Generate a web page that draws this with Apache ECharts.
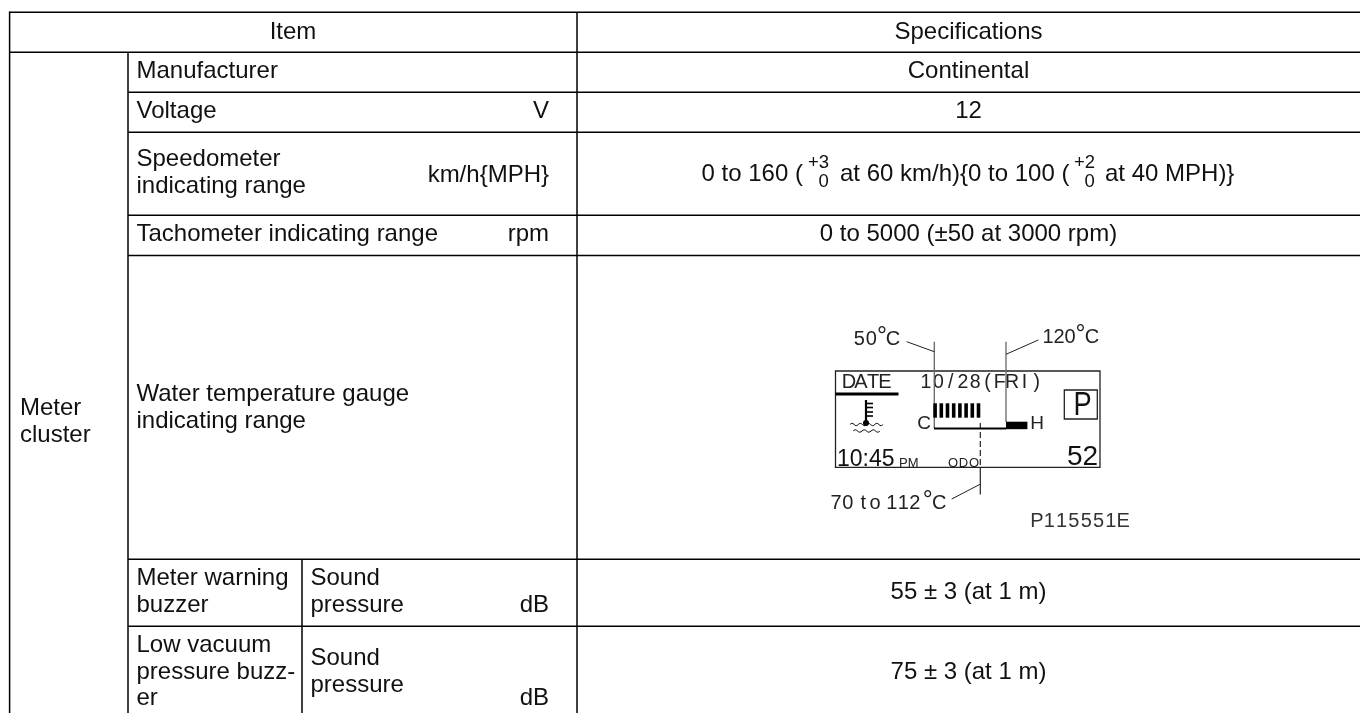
<!DOCTYPE html>
<html><head><meta charset="utf-8">
<style>html,body{margin:0;padding:0;background:#fff}#c{width:1360px;height:713px}</style>
<script src="https://cdn.jsdelivr.net/npm/echarts@6/dist/echarts.min.js"></script>
</head><body><div id="c"></div>
<script>
const headers = ["Item", "Specifications"];
const groupLabel = ["Meter", "cluster"];
const itemNames = ["Manufacturer", "Voltage", "Speedometer", "indicating range", "Tachometer indicating range", "Water temperature gauge", "indicating range", "Meter warning", "buzzer", "Low vacuum", "pressure buzz-", "er"];
const subItems = ["Sound", "pressure"];
const units = ["V", "km/h{MPH}", "rpm", "dB"];
const specs = ["Continental", "12", "0 to 5000 (\u00b150 at 3000 rpm)", "55 \u00b1 3 (at 1 m)", "75 \u00b1 3 (at 1 m)"];
const speedSpec = ["0 to 160 (", "+3", "0", "at 60 km/h){0 to 100 (", "+2", "0", "at 40 MPH)}"];
const gaugeLabels = ["50\u00b0C", "120\u00b0C", "70 to 112\u00b0C", "10/28(FRI)", "DATE", "ODO", "P115551E"];
const displayText = ["C", "H", "10:45", "PM", "P", "52"];
const gaugeSegments = 8;

const F = '"Liberation Sans", Arial, sans-serif';
const INK = '#111';
const els = [];
function T(s, x, y, size, align, fill) {
  els.push({type:'text', silent:true, style:{text:s, x, y, fill:fill||INK, font:size+'px '+F, textAlign:align||'left', textVerticalAlign:'middle'}});
}
function spaced(s, cx0, y, pitch, size, fill) {
  [...s].forEach((ch,i)=>{ if(ch!==' ') T(ch,cx0+i*pitch,y,size,'center',fill||'#222'); });
}
function L(x1,y1,x2,y2,w,stroke,dash) {
  els.push({type:'line',silent:true,shape:{x1,y1,x2,y2},style:{stroke:stroke||'#000',lineWidth:w||1.5,lineDash:dash||null}});
}
function R(x,y,w,h,fill,stroke,lw) {
  els.push({type:'rect',silent:true,shape:{x,y,width:w,height:h},style:{fill:fill||'#000',stroke:stroke||null,lineWidth:lw||0}});
}

// table rules
const W=1360,H=713, X0=9.6, X1=128, X2=302, X3=577;
const Y=[12.3,52.3,92.3,132.3,215.3,255.5,559.3,626.3];
L(X0,Y[0],W,Y[0]); L(X0,Y[1],W,Y[1]);
for(let i=2;i<Y.length;i++) L(X1,Y[i],W,Y[i]);
L(X0,Y[0]-.75,X0,H); L(X1,Y[1],X1,H); L(X3,Y[0],X3,H); L(X2,Y[6],X2,H);

const FS=24, xA=136.5, xB=310.5, xU=549, xC=968.5;
T(headers[0],293,32,FS,'center'); T(headers[1],xC,32,FS,'center');
T(groupLabel[0],20,408,FS); T(groupLabel[1],20,435,FS);
T(itemNames[0],xA,71,FS);
T(itemNames[1],xA,111,FS); T(units[0],xU,111,FS,'right');
T(itemNames[2],xA,159,FS); T(itemNames[3],xA,186,FS); T(units[1],xU,175,FS,'right');
T(itemNames[4],xA,234,FS); T(units[2],xU,234,FS,'right');
T(itemNames[5],xA,394,FS); T(itemNames[6],xA,421,FS);
T(itemNames[7],xA,578,FS); T(itemNames[8],xA,605,FS);
T(itemNames[9],xA,645,FS); T(itemNames[10],xA,672,FS); T(itemNames[11],xA,698,FS);
T(subItems[0],xB,578,FS); T(subItems[1],xB,605,FS); T(units[3],xU,605,FS,'right');
T(subItems[0],xB,658,FS); T(subItems[1],xB,685,FS); T(units[3],xU,698,FS,'right');

T(specs[0],xC,71,FS,'center'); T(specs[1],xC,111,FS,'center');
T(specs[2],xC,234,FS,'center'); T(specs[3],xC,592,FS,'center'); T(specs[4],xC,672,FS,'center');
// speed spec with stacked tolerances
const ss=speedSpec, ySpec=174;
T(ss[0],701.5,ySpec,FS); T(ss[1],808,163,18.5); T(ss[2],818.5,182,18.5);
T(ss[3],840,ySpec,FS); T(ss[4],1074,163,18.5); T(ss[5],1084.5,182,18.5);
T(ss[6],1105,ySpec,FS);

// gauge drawing
R(835.5,371,264.5,96.3,'none','#222',1.3);
spaced(gaugeLabels[4],849,382,12,20);
R(835.5,392.5,63,3,'#000');
spaced(gaugeLabels[3],926,382.5,12.3,19.5);
// leaders and measure lines
L(934.3,341.7,934.3,428.5,1.3,'#666'); L(906.7,341.7,934.3,351.7,1,'#222');
L(1006,341.7,1006,422,1.3,'#666'); L(1038.3,340,1006,354.3,1,'#222');
L(980.3,423,980.3,467,1.2,'#222',[6,3]); L(980.3,467,980.3,494.5,1.2,'#222'); L(980,484.3,951.7,499,1,'#222');
for(let i=0;i<gaugeSegments;i++) R(933.3+i*6.2,403.3,3.6,14.4,'#000');
L(934,428.4,1006,428.4,2,'#000'); R(1006,421.7,21.4,7.5,'#000');
T(displayText[0],924,423.5,19,'center','#222'); T(displayText[1],1037,423.5,19,'center','#222');
// thermometer icon
L(866,400,866,423,2.2,'#000');
[403.5,407.5,412,416].forEach(y=>L(867,y,873,y,1.6,'#000'));
els.push({type:'circle',silent:true,shape:{cx:866,cy:423,r:3},style:{fill:'#000'}});
const wave=(x0,x1,y)=>{const n=Math.round((x1-x0)/8);const pts=[];for(let i=0;i<=n*4;i++){pts.push([x0+(x1-x0)*i/(n*4),y+(i%4===1?-1.2:i%4===3?1.2:0)]);}
 els.push({type:'polyline',silent:true,shape:{points:pts,smooth:.5},style:{stroke:'#000',lineWidth:1,fill:'none'}});};
wave(850,883,424.5); wave(853,880,431);
T(displayText[2],837,459.5,23,'left'); T(displayText[3],899,463,13,'left','#222');
spaced(gaugeLabels[5],953,463,10.5,13);
R(1064.3,390,33,29,'none','#222',1.3);
els.push({type:'text',silent:true,x:1082.5,y:406,scaleX:.8,style:{text:displayText[4],x:0,y:0,fill:INK,font:'34px '+F,textAlign:'center',textVerticalAlign:'middle'}});
T(displayText[5],1082.5,457,28,'center');
// callouts: characters set one by one because the drawing uses a wide, even pitch
const deg=gaugeLabels[0][2];
spaced(gaugeLabels[0].slice(0,2),859.3,339.5,12,20); T(deg,882,337,25,'center','#222'); T('C',893,339.5,20,'center','#222');
spaced(gaugeLabels[1].slice(0,3),1048,337.5,11,20); T(deg,1080.5,335,25,'center','#222'); T('C',1092,337.5,20,'center','#222');
const lo=gaugeLabels[2];
spaced(lo.slice(0,2),836,503.5,11.7,20); spaced(lo.slice(3,5),863.3,503.5,11.7,20); spaced(lo.slice(6,9),891.7,503.5,11.6,20);
T(deg,927.7,501,25,'center','#222'); T('C',939.3,503.5,20,'center','#222');
spaced(gaugeLabels[6],1037,521,12.3,20,'#333');

const chart=echarts.init(document.getElementById('c'),null,{renderer:'canvas'});
chart.setOption({animation:false,backgroundColor:'#fff',graphic:{elements:els}});
</script></body></html>
